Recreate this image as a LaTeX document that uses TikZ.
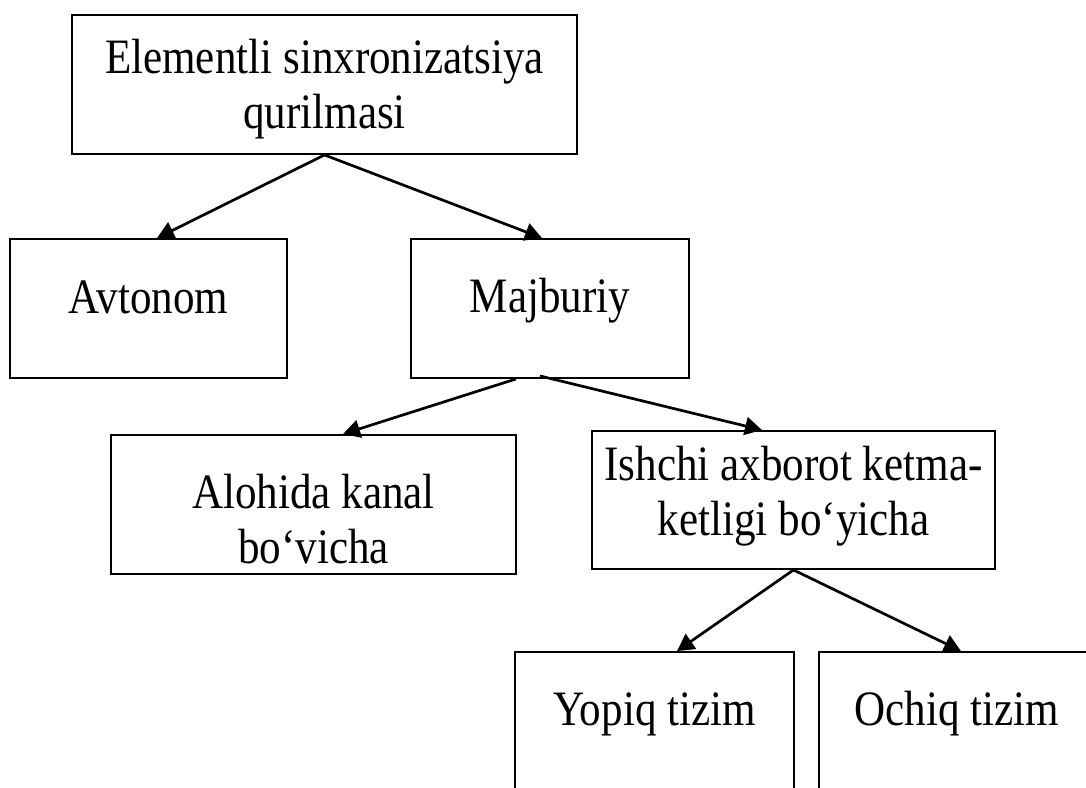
\documentclass[tikz,border=0pt]{standalone}
\usepackage{fontspec}
\setmainfont{Liberation Serif}[FakeStretch=0.87]
\usetikzlibrary{arrows.meta}
\begin{document}
\begin{tikzpicture}[x=1pt,y=-1pt,
  box/.style={draw=black,line width=1.9pt,fill=none,inner sep=0pt,text width=0pt},
  lbl/.style={anchor=base,inner sep=0pt,font=\fontsize{49.5}{60}\selectfont},
  arr/.style={line width=2.7pt,-{Triangle[length=17pt,width=18pt]}}]
\useasboundingbox (0,0) rectangle (1086,787);
\clip (0,0) rectangle (1086,787);
% boxes
\node[box,minimum width=505pt,minimum height=139pt] (b1) at (324.5,84.5) {};
\node[box,minimum width=277pt,minimum height=139pt] (avt) at (148.5,308.5) {};
\node[box,minimum width=278pt,minimum height=139pt] (maj) at (550,308.5) {};
\node[box,minimum width=405pt,minimum height=139pt] (alo) at (313.5,504.5) {};
\node[box,minimum width=403pt,minimum height=138pt] (ish) at (793.5,500) {};
\node[box,minimum width=279pt,minimum height=200pt] (yop) at (654.5,752) {};
\node[box,minimum width=276pt,minimum height=200pt] (och) at (957,752) {};
% labels
\node[lbl] (t1a) at (324.5,73) {Elementli sinxronizatsiya};
\node[lbl] (t1b) at (324.5,128) {qurilmasi};
\node[lbl] (tavt) at (148.5,313) {Avtonom};
\node[lbl] (tmaj) at (550,312) {Majburiy};
\node[lbl] (taloa) at (313.5,508) {Alohida kanal};
\node[lbl] (talob) at (313.5,563) {bo‘vicha};
\node[lbl] (tisha) at (793.5,480) {Ishchi axborot ketma-};
\node[lbl] (tishb) at (793.5,535) {ketligi bo‘yicha};
\node[lbl] (tyop) at (654.5,725) {Yopiq tizim};
\node[lbl] (toch) at (957,725) {Ochiq tizim};
% connectors
\draw[arr] (b1.south) -- ([xshift=8.5pt]avt.north);
\draw[arr] (b1.south) -- ([xshift=-8pt]maj.north);
\draw[arr] ([xshift=-34pt]maj.south) -- ([xshift=29.5pt]alo.north);
\draw[arr] ([xshift=-10pt,yshift=3pt]maj.south) -- ([xshift=-31.5pt]ish.north);
\draw[arr] (ish.south) -- ([xshift=22.5pt]yop.north);
\draw[arr] (ish.south) -- ([xshift=4pt]och.north);
\end{tikzpicture}
\end{document}
